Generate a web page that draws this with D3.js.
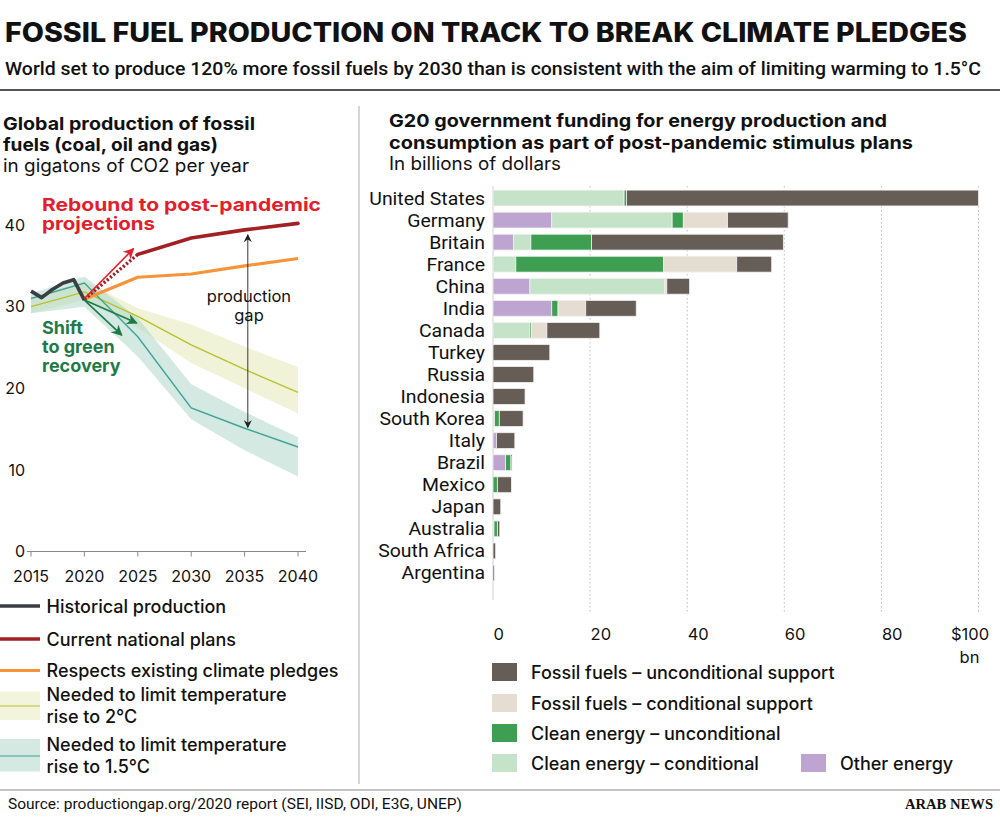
<!DOCTYPE html>
<html>
<head>
<meta charset="utf-8">
<script src="https://cdn.jsdelivr.net/npm/d3@7/dist/d3.min.js"></script>
<style>
  html, body { margin: 0; padding: 0; background: #fff; }
  svg { display: block; }
  text { font-family: Inter, "Noto Sans", sans-serif; fill: #111; }
</style>
</head>
<body>
<svg id="chart" width="1000" height="833"></svg>
<script>
// ---------------- DATA ----------------
// Left chart: global fossil fuel production (GtCO2/yr)
const histYears = [2015, 2016, 2017, 2018, 2019, 2020];
const histValues = [31.9, 31.1, 32.1, 32.9, 33.3, 30.8];

const projYears = [2020, 2025, 2030, 2035, 2040];
const planValues = [30.9, 36.4, 38.4, 39.4, 40.2];
const pledgeValues = [30.9, 33.6, 34.0, 35.0, 35.9];

const tempYears = [2015, 2020, 2025, 2030, 2035, 2040];
const twoMid  = [30.0, 31.8, 28.8, 25.3, 22.3, 19.5];
const twoLow  = [29.2, 30.8, 27.4, 23.1, 20.0, 16.9];
const twoHigh = [31.0, 33.1, 29.8, 27.8, 25.1, 22.6];
const oneMid  = [31.0, 32.9, 26.3, 17.6, 15.1, 12.8];
const oneLow  = [29.2, 30.0, 23.9, 16.2, 12.4, 9.2];
const oneHigh = [31.6, 33.7, 28.6, 20.5, 17.1, 14.0];

const yTicksLeft = [0, 10, 20, 30, 40];
const xTicksLeft = [2015, 2020, 2025, 2030, 2035, 2040];

// annotation arrows [year0, value0, year1, value1]
const reboundArrow = [2020, 31.0, 2024.6, 37.1];
const greenArrows = [[2020, 30.8, 2024.9, 28.0], [2020, 30.8, 2023.5, 26.5]];
const gapArrow = [2035.3, 38.8, 2035.3, 15.2];

// Right chart: G20 stimulus funding (billions USD)
const countries = ["United States", "Germany", "Britain", "France", "China", "India", "Canada", "Turkey", "Russia", "Indonesia", "South Korea", "Italy", "Brazil", "Mexico", "Japan", "Australia", "South Africa", "Argentina"];
const otherEnergy  = [0, 12.1, 4.2, 0, 7.6, 12.1, 0, 0, 0, 0, 0, 0.7, 2.6, 0, 0, 0, 0, 0];
const cleanCond    = [27.0, 24.8, 3.6, 4.7, 27.8, 0, 7.6, 0, 0, 0, 0.3, 0, 0, 0, 0, 0.2, 0, 0];
const cleanUncond  = [0.5, 2.3, 12.5, 30.4, 0, 1.3, 0.3, 0, 0, 0, 1.0, 0, 1.1, 0.9, 0, 0.7, 0, 0];
const fossilCond   = [0, 9.1, 0, 15.1, 0.4, 5.7, 3.2, 0, 0, 0, 0, 0, 0, 0, 0, 0, 0, 0];
const fossilUncond = [72.5, 12.5, 39.5, 7.2, 4.7, 10.4, 10.9, 11.7, 8.4, 6.6, 4.9, 3.8, 0.2, 2.9, 1.6, 0.5, 0.55, 0.3];
const xTicksRight = [0, 20, 40, 60, 80, 100];

const seriesKeys = ["other", "cleanCond", "cleanUncond", "fossilCond", "fossilUncond"];
const seriesColors = { other: "#bea5d1", cleanCond: "#c4e3c9", cleanUncond: "#3e9f52", fossilCond: "#e5ddd2", fossilUncond: "#655d56" };
const legendRight = [
  { key: "fossilUncond", label: "Fossil fuels – unconditional support" },
  { key: "fossilCond", label: "Fossil fuels – conditional support" },
  { key: "cleanUncond", label: "Clean energy – unconditional" },
  { key: "cleanCond", label: "Clean energy – conditional" },
  { key: "other", label: "Other energy" }
];

// ---------------- DRAW ----------------
const svg = d3.select("#chart");
function fit(sel, w) { sel.attr("textLength", w).attr("lengthAdjust", "spacingAndGlyphs"); return sel; }
function stretch(sel, k) {
  sel.each(function () { const w = this.getComputedTextLength(); d3.select(this).attr("textLength", w * k).attr("lengthAdjust", "spacingAndGlyphs"); });
  return sel;
}

// Header
fit(svg.append("text").attr("x", 5).attr("y", 42).attr("font-size", 27).attr("font-weight", 800)
  .text("FOSSIL FUEL PRODUCTION ON TRACK TO BREAK CLIMATE PLEDGES"), 962);
fit(svg.append("text").attr("x", 5).attr("y", 75).attr("font-size", 18).attr("font-weight", 500)
  .style("font-family", "Roboto, sans-serif")
  .text("World set to produce 120% more fossil fuels by 2030 than is consistent with the aim of limiting warming to 1.5°C"), 976);
svg.append("line").attr("x1", 0).attr("x2", 1000).attr("y1", 90).attr("y2", 90).attr("stroke", "#555").attr("stroke-width", 2);
svg.append("line").attr("x1", 359).attr("x2", 359).attr("y1", 106).attr("y2", 784).attr("stroke", "#bbb").attr("stroke-width", 1.2);

// Left header
fit(svg.append("text").attr("x", 3).attr("y", 130).attr("font-size", 18).attr("font-weight", 700).text("Global production of fossil"), 252);
fit(svg.append("text").attr("x", 3).attr("y", 151).attr("font-size", 18).attr("font-weight", 700).text("fuels (coal, oil and gas)"), 215);
fit(svg.append("text").attr("x", 3).attr("y", 172).attr("font-size", 18).attr("font-weight", 400).text("in gigatons of CO2 per year"), 246);

// Right header
fit(svg.append("text").attr("x", 389).attr("y", 127).attr("font-size", 18).attr("font-weight", 700).text("G20 government funding for energy production and"), 498);
fit(svg.append("text").attr("x", 389).attr("y", 149).attr("font-size", 18).attr("font-weight", 700).text("consumption as part of post-pandemic stimulus plans"), 524);
fit(svg.append("text").attr("x", 389).attr("y", 170).attr("font-size", 18).attr("font-weight", 400).text("In billions of dollars"), 172);

// ---- Left chart ----
const xL = d3.scaleLinear().domain([2015, 2040]).range([31, 298]);
const yL = d3.scaleLinear().domain([0, 40]).range([551.5, 225]);

const defs = svg.append("defs");
function marker(id, color, size) {
  defs.append("marker").attr("id", id).attr("viewBox", "0 0 10 10").attr("refX", 9).attr("refY", 5)
    .attr("markerWidth", size).attr("markerHeight", size).attr("orient", "auto-start-reverse")
    .attr("markerUnits", "userSpaceOnUse")
    .append("path").attr("d", "M0,0 L10,5 L0,10 L3,5 z").attr("fill", color);
}
marker("arRed", "#e2202b", 11);
marker("arGreen", "#1f7a49", 11);
marker("arBlack", "#222", 8);

const area = (lo, hi) => d3.area().x((d, i) => xL(tempYears[i])).y0((d, i) => yL(lo[i])).y1((d, i) => yL(hi[i]));
const lineT = arr => d3.line().x((d, i) => xL(tempYears[i])).y((d, i) => yL(arr[i]));

svg.append("path").datum(tempYears).attr("d", area(twoLow, twoHigh)).attr("fill", "#eef2d4").attr("opacity", 0.9);
svg.append("path").datum(tempYears).attr("d", area(oneLow, oneHigh)).attr("fill", "#a7d3c6").attr("opacity", 0.5);
svg.append("path").datum(tempYears).attr("d", lineT(twoMid)).attr("fill", "none").attr("stroke", "#b5c22c").attr("stroke-width", 1.4);
svg.append("path").datum(tempYears).attr("d", lineT(oneMid)).attr("fill", "none").attr("stroke", "#3ea596").attr("stroke-width", 1.4);

// left axes
svg.append("line").attr("x1", 27).attr("x2", 306).attr("y1", yL(0)).attr("y2", yL(0)).attr("stroke", "#888").attr("stroke-width", 1);
svg.selectAll(".xtL").data(xTicksLeft).join("line").attr("x1", d => xL(d)).attr("x2", d => xL(d))
  .attr("y1", yL(0)).attr("y2", yL(0) + 5).attr("stroke", "#888");
svg.selectAll(".xlL").data(xTicksLeft).join("text").attr("x", d => xL(d)).attr("y", 582)
  .attr("text-anchor", "middle").attr("font-size", 16).text(d => d);
svg.selectAll(".ylL").data(yTicksLeft).join("text").attr("x", 25).attr("y", d => yL(d)).attr("dy", "0.36em")
  .attr("text-anchor", "end").attr("font-size", 16).text(d => d);

// pledges (orange)
const lineP = arr => d3.line().x((d, i) => xL(projYears[i])).y((d, i) => yL(arr[i]));
svg.append("path").datum(projYears).attr("d", lineP(pledgeValues)).attr("fill", "none").attr("stroke", "#f7943a").attr("stroke-width", 3.2).attr("stroke-linejoin", "round");

// current plans: dotted first segment, solid afterwards
svg.append("path").datum(projYears.slice(0, 2)).attr("d", d3.line().x(d => xL(d)).y((d, i) => yL(planValues[i])))
  .attr("fill", "none").attr("stroke", "#a21f24").attr("stroke-width", 3.4).attr("stroke-dasharray", "2.2,2");
svg.append("path").datum(projYears.slice(1)).attr("d", d3.line().x(d => xL(d)).y((d, i) => yL(planValues[i + 1])))
  .attr("fill", "none").attr("stroke", "#a21f24").attr("stroke-width", 3.6).attr("stroke-linecap", "round");

// historical
svg.append("path").datum(histYears).attr("d", d3.line().x(d => xL(d)).y((d, i) => yL(histValues[i])))
  .attr("fill", "none").attr("stroke", "#3b3e43").attr("stroke-width", 3.6).attr("stroke-linejoin", "round");

// arrows
function arrow(a, color, mk, w, both) {
  const l = svg.append("line").attr("x1", xL(a[0])).attr("y1", yL(a[1])).attr("x2", xL(a[2])).attr("y2", yL(a[3]))
    .attr("stroke", color).attr("stroke-width", w).attr("marker-end", `url(#${mk})`);
  if (both) l.attr("marker-start", `url(#${mk})`);
}
arrow(reboundArrow, "#e2202b", "arRed", 1.6);
greenArrows.forEach(a => arrow(a, "#1f7a49", "arGreen", 1.6));
arrow(gapArrow, "#222", "arBlack", 0.9, true);

// annotations
fit(svg.append("text").attr("x", 42).attr("y", 211).attr("font-size", 18).attr("font-weight", 700).style("fill", "#e2202b").text("Rebound to post-pandemic"), 279);
fit(svg.append("text").attr("x", 42).attr("y", 230).attr("font-size", 18).attr("font-weight", 700).style("fill", "#e2202b").text("projections"), 113);
["Shift", "to green", "recovery"].forEach((t, i) =>
  svg.append("text").attr("x", 42).attr("y", 334 + i * 19).attr("font-size", 18).attr("font-weight", 700).style("fill", "#1f7a49").text(t));
svg.append("text").attr("x", 249).attr("y", 302).attr("text-anchor", "middle").attr("font-size", 16.5).attr("font-weight", 400).text("production");
svg.append("text").attr("x", 249).attr("y", 321).attr("text-anchor", "middle").attr("font-size", 16.5).attr("font-weight", 400).text("gap");

// left legend
const legL = [
  { y: 606, color: "#3b3e43", w: 3.4, label: "Historical production" },
  { y: 639, color: "#a21f24", w: 3.4, label: "Current national plans" },
  { y: 670.5, color: "#f7943a", w: 3.2, label: "Respects existing climate pledges" }
];
legL.forEach(d => {
  svg.append("line").attr("x1", 0).attr("x2", 40).attr("y1", d.y).attr("y2", d.y).attr("stroke", d.color).attr("stroke-width", d.w);
  svg.append("text").attr("x", 46.5).attr("y", d.y + 6.5).attr("font-size", 18).attr("font-weight", 500).text(d.label);
});
const legB = [
  { y0: 691.5, y1: 720, fill: "#f2f5dc", line: "#b5c22c", ly: 706, t: ["Needed to limit temperature", "rise to 2°C"], ty: 700.5 },
  { y0: 739, y1: 771.5, fill: "#d3e9e2", line: "#3ea596", ly: 756, t: ["Needed to limit temperature", "rise to 1.5°C"], ty: 750.5 }
];
legB.forEach(d => {
  svg.append("rect").attr("x", 0).attr("y", d.y0).attr("width", 40).attr("height", d.y1 - d.y0).attr("fill", d.fill);
  svg.append("line").attr("x1", 0).attr("x2", 40).attr("y1", d.ly).attr("y2", d.ly).attr("stroke", d.line).attr("stroke-width", 1.2);
  d.t.forEach((t, i) => svg.append("text").attr("x", 46.5).attr("y", d.ty + i * 22.5).attr("font-size", 18).attr("font-weight", 500).text(t));
});

// ---- Right chart ----
const xR = d3.scaleLinear().domain([0, 100]).range([493, 978.5]);
const yR = d3.scaleBand().domain(countries).range([187, 584]).paddingInner(0.28).paddingOuter(0.14);

// grid
svg.selectAll(".grid").data(xTicksRight.slice(1)).join("line").attr("x1", d => xR(d)).attr("x2", d => xR(d))
  .attr("y1", 186).attr("y2", 614).attr("stroke", "#bdbdbd").attr("stroke-width", 1).attr("stroke-dasharray", "1.5,2.5");
svg.append("line").attr("x1", xR(0)).attr("x2", xR(0)).attr("y1", 186).attr("y2", 600).attr("stroke", "#d0d0d0").attr("stroke-width", 1);

const table = countries.map((c, i) => ({
  country: c, other: otherEnergy[i], cleanCond: cleanCond[i], cleanUncond: cleanUncond[i], fossilCond: fossilCond[i], fossilUncond: fossilUncond[i]
}));
const stack = d3.stack().keys(seriesKeys)(table);
svg.append("g").selectAll("g").data(stack).join("g").attr("fill", d => seriesColors[d.key])
  .selectAll("rect").data(d => d.filter(s => s[1] - s[0] > 0)).join("rect")
  .attr("x", d => xR(d[0])).attr("width", d => xR(d[1]) - xR(d[0]))
  .attr("y", d => yR(d.data.country)).attr("height", yR.bandwidth())
  .attr("stroke", "#f2f2f2").attr("stroke-width", 0.8);

// country labels
const cl = svg.selectAll(".cl").data(countries).join("text").attr("x", 485).attr("y", d => yR(d) + yR.bandwidth() / 2).attr("dy", "0.36em")
  .attr("text-anchor", "end").attr("font-size", 18).style("font-family", "Roboto, sans-serif").text(d => d);
stretch(cl, 1.08);

// x axis labels
const axisG = svg.append("g").attr("transform", "translate(0,640)")
  .call(d3.axisBottom(xR).tickValues(xTicksRight).tickSize(0).tickPadding(0).tickFormat(d => d === 100 ? "$100" : d));
axisG.select(".domain").remove();
axisG.selectAll("text").attr("font-size", 16.5).attr("font-family", "Inter, sans-serif").attr("fill", "#111").attr("dy", 0)
  .attr("text-anchor", d => d === 100 ? "middle" : "start").attr("dx", d => d === 100 ? -9 : 0);
svg.append("text").attr("x", xR(100) - 9).attr("y", 663).attr("text-anchor", "middle").attr("font-size", 16.5).text("bn");

// right legend
const legPos = [
  { x: 492, y: 672 }, { x: 492, y: 703 }, { x: 492, y: 733 }, { x: 492, y: 763 }, { x: 801, y: 763 }
];
legendRight.forEach((d, i) => {
  const p = legPos[i];
  svg.append("rect").attr("x", p.x).attr("y", p.y - 9).attr("width", 25).attr("height", 18).attr("fill", seriesColors[d.key]);
  svg.append("text").attr("x", p.x + 39).attr("y", p.y + 6.5).attr("font-size", 18).attr("font-weight", 500).text(d.label);
});

// footer
svg.append("line").attr("x1", 0).attr("x2", 1000).attr("y1", 790).attr("y2", 790).attr("stroke", "#888").attr("stroke-width", 1);
fit(svg.append("text").attr("x", 8).attr("y", 809).attr("font-size", 14).style("font-family", "Roboto, sans-serif")
  .text("Source: productiongap.org/2020 report (SEI, IISD, ODI, E3G, UNEP)"), 454);
fit(svg.append("text").attr("x", 905).attr("y", 809).attr("font-size", 15).attr("font-weight", 700)
  .style("font-family", "'Liberation Serif', 'DejaVu Serif', serif").text("ARAB NEWS"), 88);
</script>
</body>
</html>
